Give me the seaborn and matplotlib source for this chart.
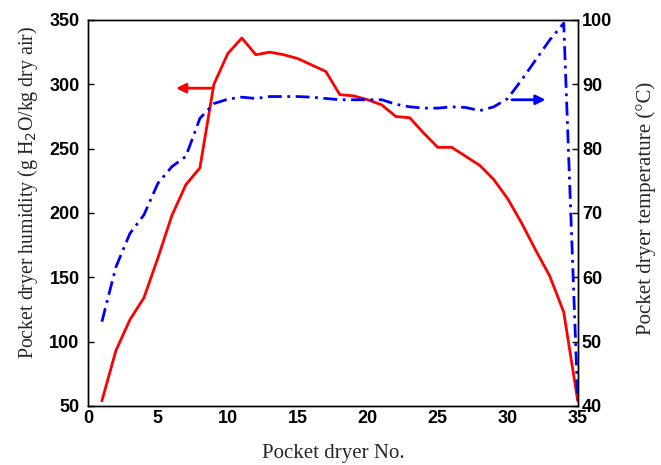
import matplotlib
matplotlib.use('Agg')
import matplotlib.pyplot as plt
import seaborn as sns
import pandas as pd

sns.set_theme(style='white')

# pocket dryer number
dryer_no = list(range(1, 36))
# humidity (g H2O/kg dry air)
humidity = [54, 93, 117, 134, 165, 198, 222, 235, 300, 324, 336, 323, 325, 323,
            320, 315, 310, 292, 291, 288, 284, 275, 274, 262, 251, 251, 244, 237,
            226, 211, 192, 171, 151, 123, 54]
# temperature (deg C)
temperature = [53.1, 61.6, 66.8, 69.7, 74.6, 77.2, 78.8, 84.7, 87.0, 87.7, 88.0, 87.8,
               88.1, 88.1, 88.1, 88.0, 87.8, 87.6, 87.6, 87.6, 87.6, 86.9, 86.5, 86.3,
               86.3, 86.5, 86.4, 85.9, 86.5, 87.8, 90.7, 93.8, 96.9, 99.5, 41.0]

df = pd.DataFrame({'no': dryer_no, 'humidity': humidity, 'temperature': temperature})

fig = plt.figure(figsize=(6.61, 4.65), dpi=100)
ax = fig.add_axes([0.133, 0.127, 0.741, 0.830])
ax2 = ax.twinx()

sns.lineplot(data=df, x='no', y='humidity', ax=ax, color='#ff0000', linewidth=2)
sns.lineplot(data=df, x='no', y='temperature', ax=ax2, color='#0000ff', linewidth=2,
             linestyle=(0, (5, 2, 1, 2)))

ax.set_xlim(0, 35)
ax.set_ylim(50, 350)
ax2.set_ylim(40, 100)
ax.set_xticks(range(0, 36, 5))
ax.set_yticks(range(50, 351, 50))
ax2.set_yticks(range(40, 101, 10))

tick_font = dict(family='Liberation Sans', weight='bold', size=13)
for a in (ax, ax2):
    for lab in a.get_xticklabels() + a.get_yticklabels():
        lab.set_fontproperties(matplotlib.font_manager.FontProperties(**tick_font))
    a.tick_params(direction='in', length=4, width=1, colors='black', pad=3)
    for s in a.spines.values():
        s.set_color('black')
        s.set_linewidth(1)
ax.tick_params(axis='y', pad=6)

ax.set_xlabel('Pocket dryer No.', labelpad=12, family='Liberation Serif', size=15)
ax.set_ylabel('Pocket dryer humidity (g H$_2$O/kg dry air)', labelpad=7,
              family='Liberation Serif', size=14.3)
ax.yaxis.label.set_y(0.552)
ax2.set_ylabel('Pocket dryer temperature (°C)', labelpad=17,
               family='Liberation Serif', size=15)
ax2.yaxis.label.set_y(0.513)

# direction arrows
ax.annotate('', xy=(6.1, 297), xytext=(9.0, 297),
            arrowprops=dict(arrowstyle='-|>', color='#ff0000', lw=2, mutation_scale=14))
ax.annotate('', xy=(32.9, 288), xytext=(30.1, 288),
            arrowprops=dict(arrowstyle='-|>', color='#0000ff', lw=2, mutation_scale=14))

fig.savefig('out.png', dpi=100)
